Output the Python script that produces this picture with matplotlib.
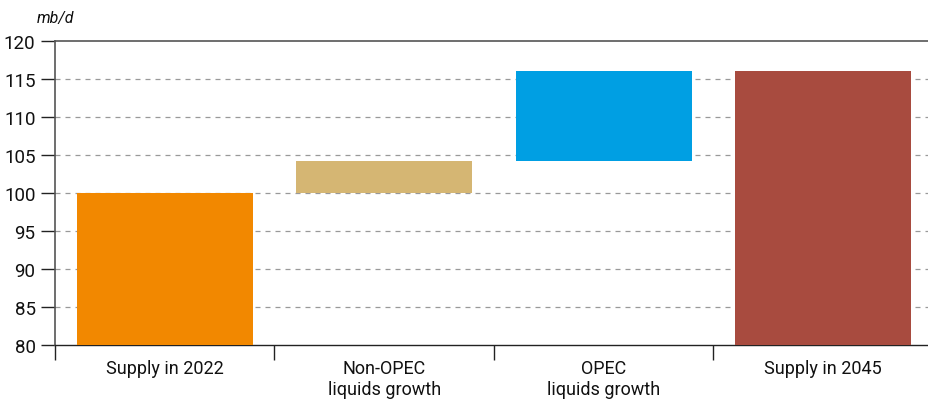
import numpy as np
from matplotlib import pyplot as plt

# data (mb/d)
categories = ["Supply in 2022", "Non-OPEC\nliquids growth", "OPEC\nliquids growth", "Supply in 2045"]
bar_bottoms = [80.0, 100.0, 104.2, 80.0]
bar_tops = [100.0, 104.2, 116.0, 116.0]
colors = ["#F28800", "#D5B673", "#009FE3", "#A84B3F"]
yticks = [80, 85, 90, 95, 100, 105, 110, 115, 120]

plt.rcParams["font.family"] = ["Roboto", "DejaVu Sans"]

fig = plt.figure(figsize=(9.29, 4.06), dpi=100)
ax = fig.add_axes([55 / 929, 1 - 346 / 406, 878 / 929, 304 / 406])

x = np.arange(len(categories))
heights = np.array(bar_tops) - np.array(bar_bottoms)
ax.bar(x, heights, bottom=bar_bottoms, width=0.8, color=colors, zorder=3)

ax.set_xlim(-0.5, len(categories) - 0.5)
ax.set_ylim(80, 120)

# dashed gridlines, solid line at the top
for yv in yticks[1:-1]:
    ax.axhline(yv, color="#999999", linestyle=(0, (4, 4)), linewidth=0.9, zorder=1)
ax.axhline(120, color="#555555", linewidth=1.2, zorder=2, clip_on=False)

ax.set_yticks(yticks)
ax.set_yticklabels([str(v) for v in yticks], fontsize=13.5, color="#111111")
ax.tick_params(axis="y", length=10, width=1.0, color="#222222", pad=4, direction="out")

ax.set_xticks(x)
ax.set_xticklabels(categories, fontsize=13, color="#111111", linespacing=1.25)
ax.tick_params(axis="x", which="major", length=0, pad=10)
ax.set_xticks(np.arange(-0.5, len(categories), 1.0), minor=True)
ax.tick_params(axis="x", which="minor", length=11, width=1.0, color="#222222", direction="out")

ax.spines["top"].set_visible(False)
ax.spines["right"].set_visible(False)
ax.spines["left"].set_color("#555555")
ax.spines["left"].set_linewidth(1.2)
ax.spines["left"].set_bounds(80, 120)
ax.spines["bottom"].set_color("#222222")
ax.spines["bottom"].set_linewidth(1.0)

fig.text(37 / 929, 1 - 18 / 406, "mb/d", fontsize=11.5, style="italic",
         ha="left", va="center", color="#111111")

plt.savefig("out.png", dpi=100)
plt.close()
